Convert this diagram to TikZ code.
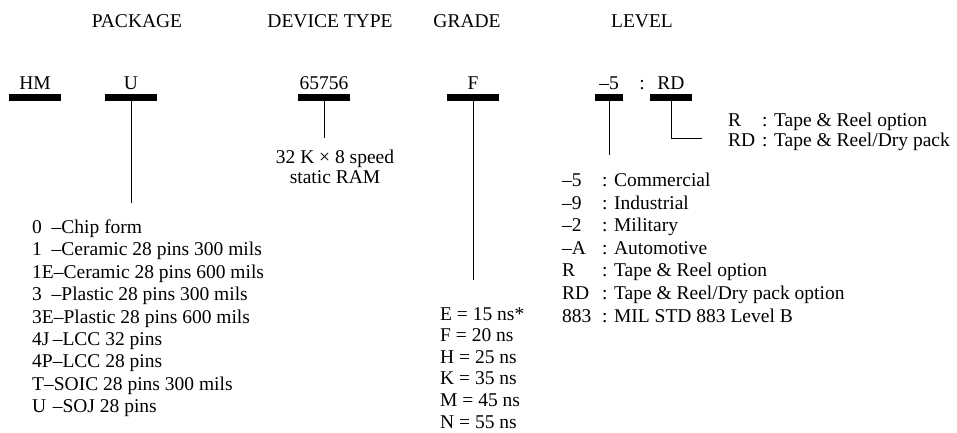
\documentclass[tikz,border=0pt]{standalone}
\usepackage{fontspec}
\setmainfont{Liberation Serif}
\usetikzlibrary{positioning}

\begin{document}
\begin{tikzpicture}[
  x=1pt, y=1pt,
  txt/.style={font=\fontsize{19.5}{22.4}\selectfont, inner sep=0pt},
  head/.style={txt, anchor=base},
  code/.style={txt, anchor=base},
  bar/.style={fill=black, inner sep=0pt, minimum height=7pt, below=4.5pt of #1},
  row/.style={txt, anchor=base west},
  stem/.style={line width=0.9pt}
]
\useasboundingbox (0,0) rectangle (957,-432);

% field titles
\node[head] (tpkg) at (137,-27.5) {PACKAGE};
\node[head] (tdev) at (330,-27.5) {DEVICE TYPE};
\node[head] (tgrd) at (467,-27.5) {GRADE};
\node[head] (tlvl) at (642,-27.5) {LEVEL};

% part number
\node[code] (hm)  at (35,-89)  {HM};
\node[code] (pkg) at (131,-89) {U};
\node[code] (dev) at (324,-89) {65756};
\node[code] (grd) at (473,-89) {F};
\node[code] (lvl) at (609,-89) {–5};
\node[code] (sep) at (642,-89) {:};
\node[code] (opt) at (671,-89) {RD};

\node[bar=hm,  minimum width=52pt] (hmbar)  {};
\node[bar=pkg, minimum width=52pt] (pkgbar) {};
\node[bar=dev, minimum width=52pt] (devbar) {};
\node[bar=grd, minimum width=52pt] (grdbar) {};
\node[bar=lvl, minimum width=28pt] (lvlbar) {};
\node[bar=opt, minimum width=42pt] (optbar) {};

% stems
\path (pkgbar.south) ++(0,-102) coordinate (pkgend);
\path (devbar.south) ++(0,-37)  coordinate (devend);
\path (grdbar.south) ++(0,-179) coordinate (grdend);
\path (lvlbar.south) ++(0,-54)  coordinate (lvlend);
\coordinate (optend) at (702,-138);
\draw[stem] (pkgbar.south) -- (pkgend);
\draw[stem] (devbar.south) -- (devend);
\draw[stem] (grdbar.south) -- (grdend);
\draw[stem] (lvlbar.south) -- (lvlend);
\draw[stem] (optbar.south) |- (optend);

% device type
\node[code] (ram1) at (335,-163.5) {32 K × 8 speed};
\node[code] (ram2) at (335,-183.5) {static RAM};

% options
\node[row] (o1) at (728,-126.5) {\makebox[34pt][l]{R}: Tape \& Reel option};
\node[row] (o2) at (728,-146.5) {\makebox[34pt][l]{RD}: Tape \& Reel/Dry pack};

% package list
\foreach \t [count=\i] in {
  0\enspace–Chip form,
  1\enspace–Ceramic 28 pins 300 mils,
  1E–Ceramic 28 pins 600 mils,
  3\enspace–Plastic 28 pins 300 mils,
  3E–Plastic 28 pins 600 mils,
  4J\,–LCC 32 pins,
  4P–LCC 28 pins,
  T–SOIC 28 pins 300 mils,
  U\,\,–SOJ 28 pins}
  \node[row] (p\i) at (32,{-233.5-22.4*(\i-1)}) {\t};

% grade list
\foreach \t [count=\i] in {E = 15 ns*, F = 20 ns, H = 25 ns, K = 35 ns, M = 45 ns, N = 55 ns}
  \node[row] (g\i) at (440,{-320-21.6*(\i-1)}) {\t};

% level list
\foreach \c/\t [count=\i] in {
  –5/Commercial, –9/Industrial, –2/Military, –A/Automotive,
  R/{Tape \& Reel option}, RD/{Tape \& Reel/Dry pack option},
  883/{MIL STD 883 Level B}}
  \node[row] (l\i) at (562,{-186.5-22.6*(\i-1)}) {\makebox[40pt][l]{\c}: \t};
\end{tikzpicture}
\end{document}
